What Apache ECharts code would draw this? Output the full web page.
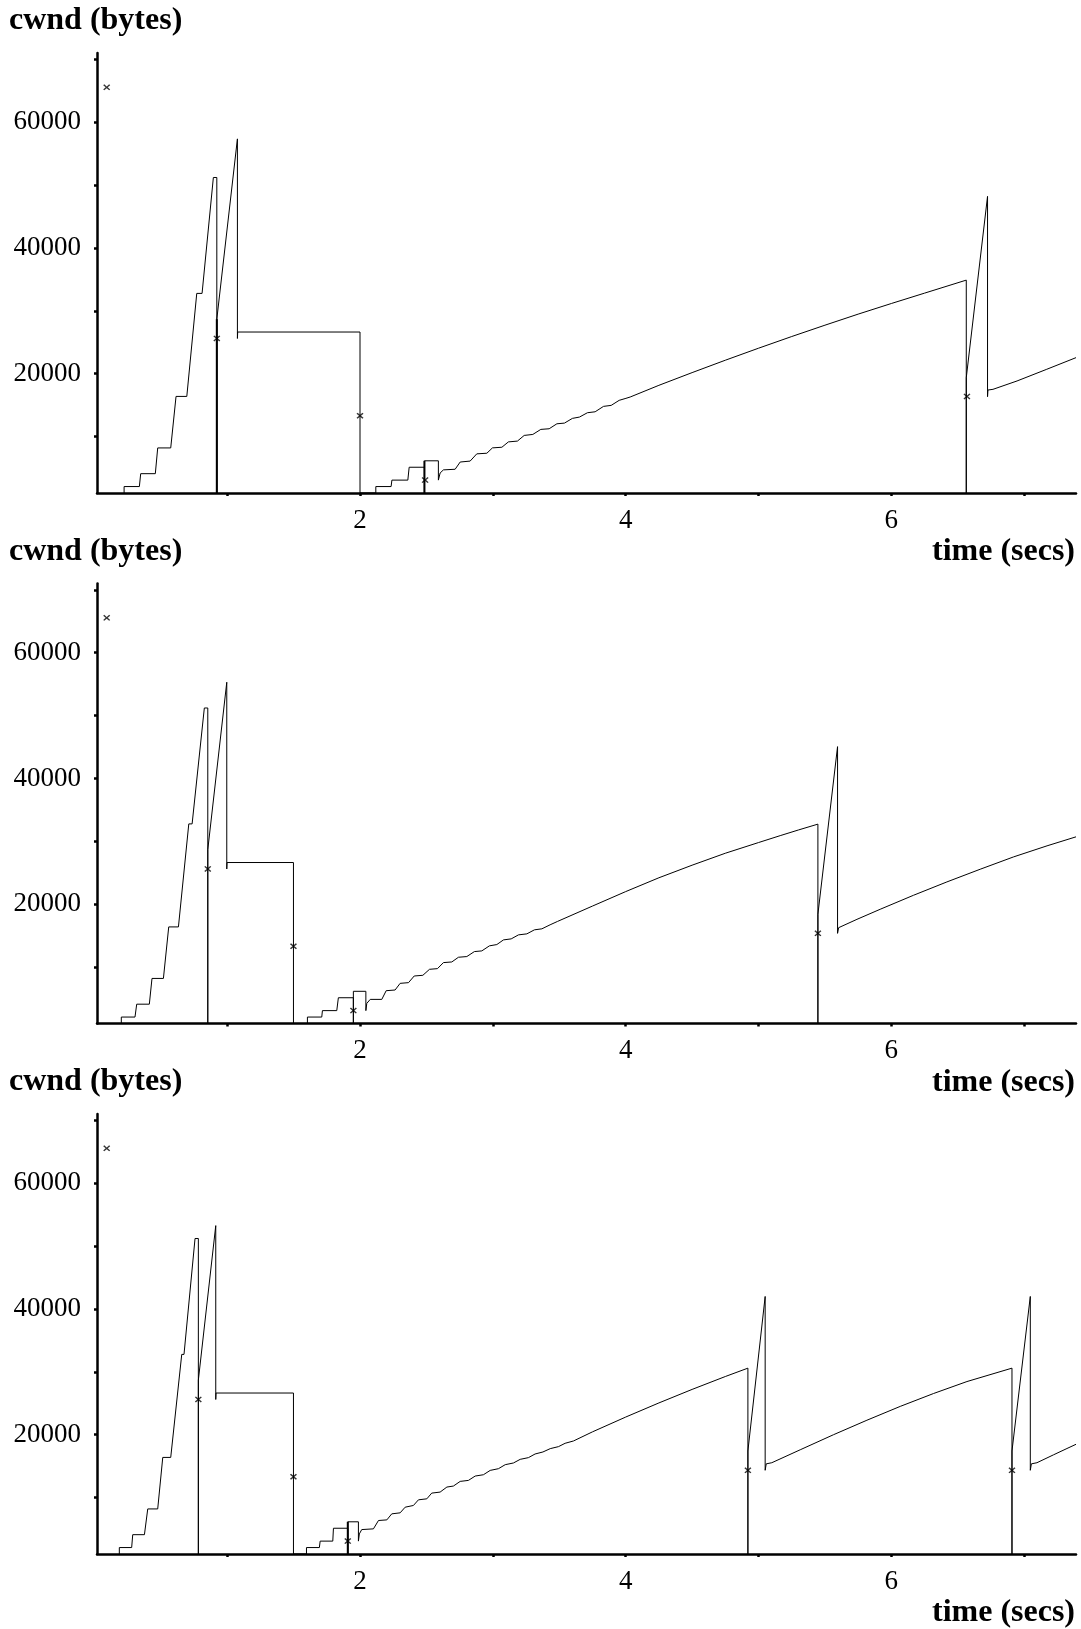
<!DOCTYPE html>
<html>
<head>
<meta charset="utf-8">
<script src="https://cdn.jsdelivr.net/npm/echarts@6/dist/echarts.min.js"></script>
<style>
  html, body { margin: 0; padding: 0; background: #fff; }
  #chart { width: 1081px; height: 1629px; }
</style>
</head>
<body>
<div id="chart"></div>
<script>
// ---- cwnd traces (time in seconds, congestion window in bytes) ----
const cwndA = [
  [0.224,1024],[0.224,2048],[0.339,2048],[0.349,4096],[0.459,4096],[0.477,8192],[0.575,8192],
  [0.615,16384],[0.696,16384],[0.771,32768],[0.811,32768],[0.896,51200],[0.922,51200],
  [0.922,1024],[0.922,28672],[1.077,57344],[1.077,25600],[1.079,26624],[2.0,26624],[2.0,1024],
  [2.119,1024],[2.119,2048],[2.234,2048],[2.24,3072],[2.36,3072],[2.37,5120],[2.485,5120],
  [2.485,1024],[2.485,6144],[2.59,6144],[2.59,3072],
  [2.603,4200],[2.628,4700],[2.716,4800],[2.754,5950],[2.829,6100],[2.879,7250],[2.955,7350],
  [2.997,8200],[3.068,8300],[3.117,9150],[3.185,9280],[3.236,10180],[3.301,10340],[3.361,11140],
  [3.424,11240],[3.482,12030],[3.539,12140],[3.599,12890],[3.652,13100],[3.712,13790],[3.770,13940],
  [3.833,14800],[3.891,14960],[3.951,15760],[4.002,16080],[4.034,16290],
  [4.25,18150],[4.5,20170],[4.75,22140],[5.0,24050],[5.25,25910],[5.5,27710],[5.75,29470],
  [6.0,31160],[6.25,32810],[6.564,34880],[6.564,1024],[6.564,19360],[6.724,48200],[6.724,16340],
  [6.727,17400],[6.765,17510],[6.946,18840],[7.17,20700],[7.39,22550]
];
const cwndB = [
  [0.203,1024],[0.203,2048],[0.306,2048],[0.319,4096],[0.414,4096],[0.434,8192],[0.52,8192],
  [0.56,16384],[0.633,16384],[0.711,32768],[0.736,32768],[0.828,51200],[0.854,51200],
  [0.854,1024],[0.854,28672],[0.997,55296],[0.997,25600],[0.999,26624],[1.499,26624],[1.499,1024],
  [1.604,1024],[1.604,2048],[1.712,2048],[1.717,3072],[1.825,3072],[1.837,5120],[1.95,5120],
  [1.95,1024],[1.95,6144],[2.044,6144],[2.044,3072],
  [2.051,4220],[2.077,4860],[2.164,4860],[2.197,6240],[2.264,6350],[2.302,7410],[2.365,7520],
  [2.408,8580],[2.473,8690],[2.523,9640],[2.583,9750],[2.628,10710],[2.691,10810],[2.741,11560],
  [2.804,11670],[2.861,12460],[2.917,12570],[2.974,13370],[3.030,13580],[3.080,14320],[3.138,14480],
  [3.193,15120],[3.256,15280],[3.313,15920],[3.369,16080],[3.431,16720],[3.486,17250],
  [3.75,19700],[4.0,22000],[4.25,24200],[4.5,26200],[4.75,28100],[5.0,29800],[5.163,30900],
  [5.3,31800],[5.447,32730],[5.447,1024],[5.447,18390],[5.595,45056],[5.595,15360],
  [5.603,16260],[5.741,17590],[5.916,19190],[6.167,21420],[6.418,23540],[6.669,25560],
  [6.92,27520],[7.172,29280],[7.39,30710]
];
const cwndC = [
  [0.188,1024],[0.188,2048],[0.281,2048],[0.289,4096],[0.377,4096],[0.402,8192],[0.477,8192],
  [0.515,16384],[0.575,16384],[0.658,32768],[0.675,32768],[0.758,51200],[0.783,51200],
  [0.783,1024],[0.783,28672],[0.914,53248],[0.914,25600],[0.916,26624],[1.499,26624],[1.499,1024],
  [1.597,1024],[1.597,2048],[1.694,2048],[1.70,3072],[1.795,3072],[1.80,5120],[1.908,5120],
  [1.908,1024],[1.908,6144],[1.988,6144],[1.988,3072],
  [1.995,4220],[2.013,4910],[2.101,5020],[2.139,6350],[2.202,6450],[2.239,7410],[2.302,7570],
  [2.34,8470],[2.402,8740],[2.44,9640],[2.503,9800],[2.54,10710],[2.603,10870],[2.654,11670],
  [2.703,11830],[2.754,12570],[2.816,12730],[2.867,13420],[2.929,13630],[2.98,14320],[3.042,14590],
  [3.093,15230],[3.155,15500],[3.206,16080],[3.268,16350],[3.318,16930],[3.377,17250],
  [3.432,17780],[3.494,18100],[3.544,18630],[3.607,19000],
  [3.75,20450],[4.0,22800],[4.25,25050],[4.5,27200],[4.75,29250],[4.92,30580],
  [4.92,1024],[4.92,17400],[5.05,41984],[5.05,14336],[5.058,15360],[5.1,15540],[5.314,17600],
  [5.565,20000],[5.816,22300],[6.067,24500],[6.318,26550],[6.569,28450],[6.908,30580],
  [6.908,1024],[6.908,17400],[7.046,41984],[7.046,14336],[7.054,15360],[7.096,15540],
  [7.221,16800],[7.322,17800],[7.39,18470]
];

// ssthresh samples, drawn as small crosses
const ssthreshA = [[0.093,65535],[0.922,25600],[2.0,13312],[2.49,3072],[6.569,16384]];
const ssthreshB = [[0.093,65535],[0.854,25600],[1.499,13312],[1.95,3072],[5.447,15360]];
const ssthreshC = [[0.093,65535],[0.783,25600],[1.499,13312],[1.908,3072],[4.92,14336],[6.908,14336]];

// retransmission segments drawn with a heavier stroke
const boldA = [[[0.922,1024],[0.922,28672]], [[2.485,1024],[2.485,6144]]];
const boldB = [];
const boldC = [[[1.908,1024],[1.908,6144]]];

// axis ticks and labels
const xTicks = [1, 2, 3, 4, 5, 6, 7];
const xLabels = [2, 4, 6];
const yTicks = [10000, 20000, 30000, 40000, 50000, 60000, 70000];
const yLabels = [20000, 40000, 60000];

const yTitle = 'cwnd (bytes)';
const xTitle = 'time (secs)';

// ---- layout ----
const FONT = '"Liberation Serif", "Times New Roman", serif';
const PANEL_STEP = 530.5;
const GRID_TOP = 53;
const GRID_H = 440;

const panels = [
  { cwnd: cwndA, marks: ssthreshA, bold: boldA },
  { cwnd: cwndB, marks: ssthreshB, bold: boldB },
  { cwnd: cwndC, marks: ssthreshC, bold: boldC }
];

const CROSS = 'path://M0,1.5L1.5,0L5,3.5L8.5,0L10,1.5L6.5,5L10,8.5L8.5,10L5,6.5L1.5,10L0,8.5L3.5,5Z';

const axisLineStyle = { color: '#000', width: 2.5 };
const labelStyle = { color: '#000', fontFamily: FONT, fontSize: 27 };
const titleStyle = { color: '#000', fontFamily: FONT, fontSize: 32, fontWeight: 'bold' };

const grid = [], xAxis = [], yAxis = [], series = [], title = [];

panels.forEach((p, i) => {
  const off = i * PANEL_STEP;
  grid.push({ left: 97, right: 5, top: GRID_TOP + off, height: GRID_H });
  xAxis.push({
    type: 'value', gridIndex: i, min: 0.02, max: 7.39,
    axisLine: { show: true, onZero: false, lineStyle: axisLineStyle },
    axisTick: { show: true, customValues: xTicks, length: 3, lineStyle: axisLineStyle },
    axisLabel: Object.assign({ customValues: xLabels, margin: 14, formatter: v => String(v) }, labelStyle),
    splitLine: { show: false }
  });
  yAxis.push({
    type: 'value', gridIndex: i, min: 1024, max: 71000,
    axisLine: { show: true, onZero: false, lineStyle: axisLineStyle },
    axisTick: { show: true, customValues: yTicks, length: 3, lineStyle: axisLineStyle },
    axisLabel: Object.assign({ customValues: yLabels, margin: 16, formatter: v => String(v) }, labelStyle),
    splitLine: { show: false }
  });
  series.push({
    type: 'line', xAxisIndex: i, yAxisIndex: i, data: p.cwnd,
    showSymbol: false, symbol: 'none', silent: true,
    lineStyle: { color: '#000', width: 1 }
  });
  p.bold.forEach(seg => series.push({
    type: 'line', xAxisIndex: i, yAxisIndex: i, data: seg,
    showSymbol: false, symbol: 'none', silent: true,
    lineStyle: { color: '#000', width: 2 }
  }));
  series.push({
    type: 'scatter', xAxisIndex: i, yAxisIndex: i, data: p.marks,
    symbol: CROSS, symbolSize: [7, 6], silent: true,
    itemStyle: { color: '#000' }, z: 5
  });
  title.push({ text: yTitle, left: 9, top: 5 + off, padding: 0, textStyle: titleStyle });
  title.push({ text: xTitle, right: 6, top: 536 + off, padding: 0, textStyle: titleStyle });
});

const chart = echarts.init(document.getElementById('chart'), null, { renderer: 'canvas' });
chart.setOption({
  animation: false,
  backgroundColor: '#fff',
  title, grid, xAxis, yAxis, series
});
</script>
</body>
</html>
